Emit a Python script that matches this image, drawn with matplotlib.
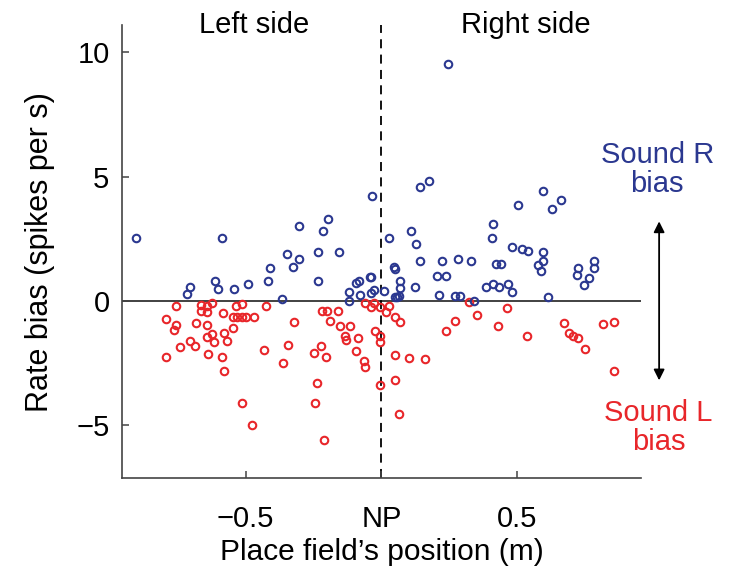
import matplotlib
matplotlib.use("Agg")
import matplotlib.pyplot as plt

plt.rcParams['font.family'] = ['Liberation Sans', 'DejaVu Sans']

# cells with a sound-R bias (blue) and sound-L bias (red)
blue_x = [-0.904, -0.586, -0.703, -0.716, -0.611, -0.600, -0.544, -0.490, -0.409, -0.418,
          -0.366, -0.348, -0.326, -0.305, -0.303, -0.232, -0.233, -0.216, -0.196, -0.157,
          -0.118, -0.118, -0.093, -0.083, -0.078, -0.042, -0.040, -0.026, -0.036, 0.140,
          0.174, 0.244, 0.029, 0.109, 0.126, 0.142, 0.223, 0.281, 0.330, 0.409,
          0.406, 0.422, 0.045, 0.051, -0.038, 0.069, 0.069, 0.009, 0.048, 0.056,
          0.064, 0.123, 0.203, 0.238, 0.213, 0.272, 0.289, 0.339, 0.385, 0.412,
          0.593, 0.501, 0.661, 0.628, 0.480, 0.517, 0.538, 0.596, 0.440, 0.593,
          0.575, 0.588, 0.431, 0.464, 0.480, 0.614, 0.725, 0.718, 0.782, 0.782,
          0.765, 0.744]
blue_y = [2.54, 2.52, 0.55, 0.28, 0.80, 0.47, 0.49, 0.67, 1.31, 0.80,
          0.07, 1.90, 1.38, 1.67, 3.02, 1.96, 0.78, 2.81, 3.31, 1.96,
          0.37, 0.00, 0.71, 0.79, 0.24, 0.95, 0.33, 0.44, 4.23, 4.59,
          4.81, 9.52, 2.52, 2.81, 2.30, 1.61, 1.61, 1.70, 1.61, 3.09,
          2.52, 1.47, 1.35, 1.29, 0.98, 0.78, 0.51, 0.41, 0.17, 0.15,
          0.20, 0.54, 1.00, 1.02, 0.24, 0.20, 0.20, 0.01, 0.54, 0.68,
          4.41, 3.84, 4.08, 3.69, 2.17, 2.09, 2.01, 1.98, 1.49, 1.61,
          1.43, 1.22, 0.57, 0.68, 0.36, 0.16, 1.31, 1.06, 1.61, 1.31,
          0.94, 0.64]

red_x = [-0.755, -0.665, -0.644, -0.622, -0.664, -0.642, -0.583, -0.534, -0.514, -0.545,
         -0.530, -0.515, -0.500, -0.793, -0.755, -0.763, -0.684, -0.644, -0.547, -0.578,
         -0.622, -0.642, -0.706, -0.685, -0.618, -0.569, -0.743, -0.638, -0.793, -0.588,
         -0.581, -0.515, -0.475, -0.424, -0.471, -0.322, -0.434, -0.344, -0.363, -0.218,
         -0.201, -0.161, -0.188, -0.154, -0.114, -0.135, -0.130, -0.085, -0.222, -0.250,
         -0.203, -0.093, -0.065, -0.061, -0.238, -0.246, -0.213, -0.059, -0.038, -0.029,
         -0.004, 0.027, 0.015, 0.050, 0.069, -0.025, -0.004, -0.004, 0.048, 0.100,
         0.162, 0.050, -0.004, 0.066, 0.238, 0.270, 0.324, 0.352, 0.428, 0.463,
         0.536, 0.673, 0.689, 0.706, 0.722, 0.748, 0.817, 0.855, 0.855]
red_y = [-0.20, -0.16, -0.20, -0.10, -0.39, -0.44, -0.47, -0.20, -0.11, -0.63,
         -0.63, -0.63, -0.63, -0.74, -0.96, -1.19, -0.91, -0.98, -1.11, -1.30,
         -1.33, -1.46, -1.61, -1.81, -1.67, -1.62, -1.86, -2.12, -2.26, -2.24,
         -2.83, -4.11, -4.98, -0.19, -0.63, -0.87, -1.97, -1.79, -2.50, -0.39,
         -0.39, -0.40, -0.83, -1.03, -1.03, -1.43, -1.57, -1.50, -1.81, -2.10,
         -2.26, -2.02, -2.41, -2.66, -3.31, -4.11, -5.61, -0.10, -0.25, -0.08,
         -0.25, -0.19, -0.44, -0.63, -0.84, -1.23, -1.43, -1.66, -2.17, -2.28,
         -2.34, -3.17, -3.37, -4.55, -1.23, -0.80, -0.05, -0.56, -1.03, -0.29,
         -1.41, -0.90, -1.30, -1.41, -1.50, -1.94, -0.92, -0.84, -2.83]

x_ticks = [-0.5, 0, 0.5]
x_tick_labels = ['\u22120.5', 'NP', '0.5']
y_ticks = [-5, 0, 5, 10]

blue = '#2b3890'
red = '#e8262a'

fig = plt.figure(figsize=(7.35, 5.71), dpi=100)
ax = fig.add_axes([0.166, 0.162, 0.706, 0.794])

ax.axhline(0, color='#333333', lw=1.3, zorder=1)
ax.axvline(0, color='black', lw=1.3, ls=(0, (5, 3.5)), zorder=1)

ax.plot(red_x, red_y, 'o', mfc='none', mec=red, ms=5.4, mew=1.5, zorder=2)
ax.plot(blue_x, blue_y, 'o', mfc='none', mec=blue, ms=5.4, mew=1.5, zorder=3)

ax.set_xlim(-0.955, 0.955)
ax.set_ylim(-7.15, 11.1)
ax.set_xticks(x_ticks)
ax.set_xticklabels(x_tick_labels)
ax.set_yticks(y_ticks)

for s in ['top', 'right']:
    ax.spines[s].set_visible(False)
for s in ['left', 'bottom']:
    ax.spines[s].set_color('#444444')
    ax.spines[s].set_linewidth(1.2)

ax.tick_params(direction='in', length=5, width=1.1, color='#444444', labelsize=21)
ax.tick_params(axis='x', pad=19)
ax.tick_params(axis='y', pad=9)

ax.set_xlabel("Place field\u2019s position (m)", fontsize=21.5, labelpad=4)
ax.set_ylabel('Rate bias (spikes per s)', fontsize=22, labelpad=15)

ax.text(-0.47, 1.0, 'Left side', transform=ax.get_xaxis_transform(),
        ha='center', va='center', fontsize=21)
ax.text(0.53, 1.0, 'Right side', transform=ax.get_xaxis_transform(),
        ha='center', va='center', fontsize=21)

ax.text(1.015, 5.3, 'Sound R\nbias', color=blue, ha='center', va='center',
        fontsize=21, linespacing=1.05, clip_on=False)
ax.text(1.02, -5.1, 'Sound L\nbias', color=red, ha='center', va='center',
        fontsize=21, linespacing=1.05, clip_on=False)

ax.annotate('', xy=(1.022, 3.2), xytext=(1.022, -3.2),
            arrowprops=dict(arrowstyle='<|-|>', color='black', lw=1.3,
                            mutation_scale=16, shrinkA=0, shrinkB=0),
            annotation_clip=False)

fig.savefig('out.png', dpi=100)
